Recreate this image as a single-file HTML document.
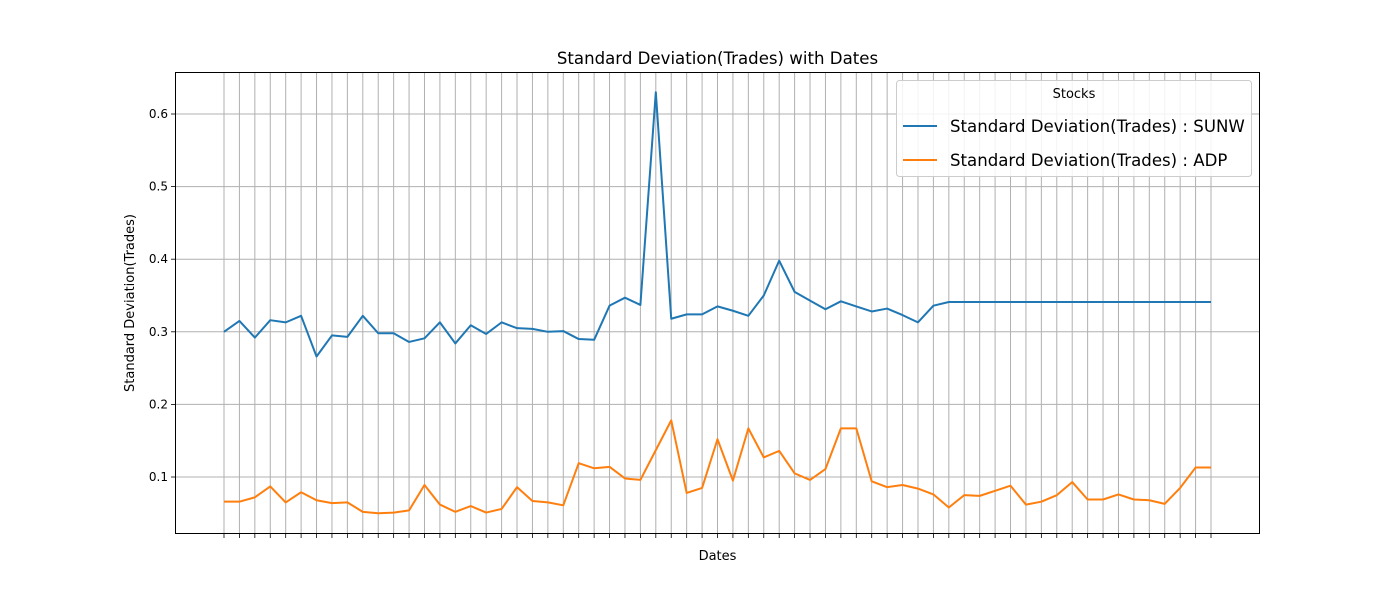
<!DOCTYPE html>
<html><head><meta charset="utf-8"><style>
body{margin:0;background:#fff;font-family:"DejaVu Sans","Liberation Sans",sans-serif}
</style></head><body>
<svg id="chart" width="1400" height="600" xmlns="http://www.w3.org/2000/svg" font-family="DejaVu Sans, Liberation Sans, sans-serif">
<rect width="1400" height="600" fill="#fff"/>
<g id="grid"></g><g id="lines"></g><g id="axes"></g>
<text x="717.5" y="64" text-anchor="middle" font-size="16.6">Standard Deviation(Trades) with Dates</text>
<text x="717.5" y="560" text-anchor="middle" font-size="13">Dates</text>
<text transform="translate(134,303) rotate(-90)" text-anchor="middle" font-size="13">Standard Deviation(Trades)</text>
<g>
<rect x="896.5" y="80.5" width="355" height="96" rx="3" fill="#fff" fill-opacity="0.85" stroke="#ccc"/>
<text x="1074" y="98" text-anchor="middle" font-size="13">Stocks</text>
<line x1="903" y1="126" x2="937" y2="126" stroke="#1f77b4" stroke-width="2"/>
<text x="950" y="132" font-size="16.6">Standard Deviation(Trades) : SUNW</text>
<line x1="903" y1="160" x2="937" y2="160" stroke="#ff7f0e" stroke-width="2"/>
<text x="950" y="166" font-size="16.6">Standard Deviation(Trades) : ADP</text>
</g>
</svg>
<script>
const sunw=[0.300,0.315,0.292,0.316,0.313,0.322,0.266,0.295,0.293,0.322,0.298,0.298,0.286,0.291,0.313,0.284,0.309,0.297,0.313,0.305,0.304,0.300,0.301,0.290,0.289,0.336,0.347,0.337,0.630,0.318,0.324,0.324,0.335,0.329,0.322,0.350,0.398,0.355,0.343,0.331,0.342,0.335,0.328,0.332,0.323,0.313,0.336,0.341,0.341,0.341,0.341,0.341,0.341,0.341,0.341,0.341,0.341,0.341,0.341,0.341,0.341,0.341,0.341,0.341,0.341];
const adp=[0.066,0.066,0.072,0.087,0.065,0.079,0.068,0.064,0.065,0.052,0.050,0.051,0.054,0.089,0.062,0.052,0.060,0.051,0.056,0.086,0.067,0.065,0.061,0.119,0.112,0.114,0.098,0.096,0.137,0.178,0.078,0.085,0.152,0.095,0.167,0.127,0.136,0.105,0.096,0.111,0.167,0.167,0.094,0.086,0.089,0.084,0.076,0.058,0.075,0.074,0.081,0.088,0.062,0.066,0.075,0.093,0.069,0.069,0.076,0.069,0.068,0.063,0.085,0.113,0.113];
const yTicks=[0.1,0.2,0.3,0.4,0.5,0.6];
const NS="http://www.w3.org/2000/svg";
const L=175,R=1260,T=72,B=534;
const n=sunw.length;
const x=i=>224+i*(1211-224)/(n-1);
const y=v=>477-(v-0.1)*726;
function mk(tag,attrs,parent){const e=document.createElementNS(NS,tag);for(const k in attrs)e.setAttribute(k,attrs[k]);parent.appendChild(e);return e;}
const grid=document.getElementById('grid'),axes=document.getElementById('axes'),lines=document.getElementById('lines');
for(let i=0;i<n;i++){
  const g=mk('line',{x1:x(i),x2:x(i),y1:T,y2:B,stroke:'#b0b0b0','stroke-width':1},grid);
  
  
  const t=mk('line',{x1:x(i),x2:x(i),y1:B,y2:B+4,stroke:'#000','stroke-width':0.8},axes);
  
  
}
yTicks.forEach(v=>{
  const g=mk('line',{x1:L,x2:R,y1:y(v),y2:y(v),stroke:'#b0b0b0','stroke-width':1},grid);
  
  
  mk('line',{x1:L-4,x2:L,y1:y(v),y2:y(v),stroke:'#000','stroke-width':0.8},axes);
  const tx=mk('text',{x:L-7,y:y(v)+4,'text-anchor':'end','font-size':12},axes);
  tx.textContent=v.toFixed(1);
  
  
});
const fr=mk('rect',{x:L+0.5,y:T+0.5,width:R-L-1,height:B-T-1,fill:'none',stroke:'#000','stroke-width':1},axes);


function line(d,c,name){
  const p=mk('polyline',{points:d.map((v,i)=>x(i)+','+y(v)).join(' '),fill:'none',stroke:c,'stroke-width':2,'stroke-linejoin':'round'},lines);
  
  
}
line(sunw,'#1f77b4','sunw-line');
line(adp,'#ff7f0e','adp-line');
</script>
</body></html>
